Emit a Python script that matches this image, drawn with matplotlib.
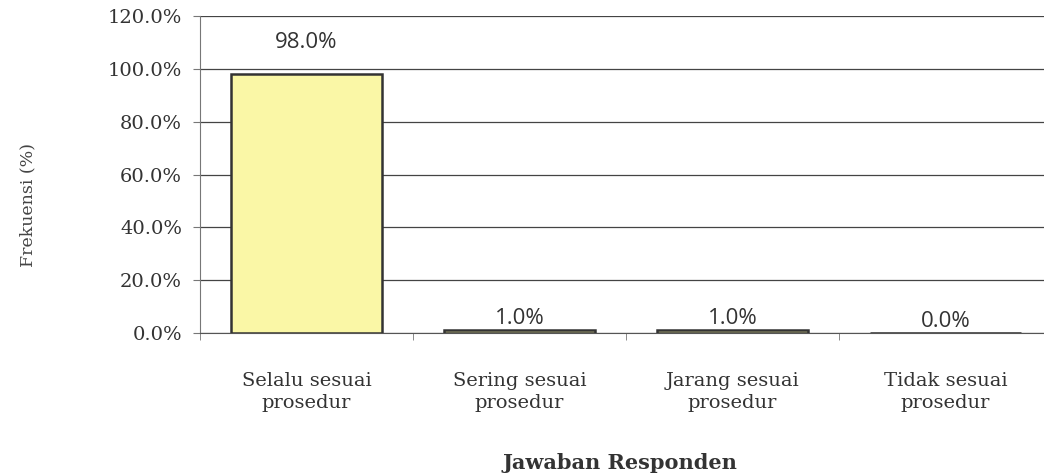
import numpy as np
import matplotlib.pyplot as plt
from matplotlib.ticker import FuncFormatter, FixedLocator

categories = ['Selalu sesuai\nprosedur', 'Sering sesuai\nprosedur',
              'Jarang sesuai\nprosedur', 'Tidak sesuai\nprosedur']
values = [98.0, 1.0, 1.0, 0.0]
yticks = [0, 20, 40, 60, 80, 100, 120]

serif = ['DejaVu Serif']
sans = ['Open Sans', 'DejaVu Sans']

fig = plt.figure(figsize=(10.44, 4.76), dpi=100)
ax = fig.add_axes([200 / 1044, 143 / 476, 852 / 1044, 317 / 476])

x = np.arange(len(categories))
ax.bar(x, values, width=0.71, color='#FAF7A6', edgecolor='#333333', linewidth=1.8, zorder=3)

# data labels above bars
for xi, v in zip(x, values):
    off = 11.8 if v > 50 else 4.5
    ax.text(xi, v + off, f'{v:.1f}%', ha='center', va='center', fontsize=16,
            family=sans, color='#333333', zorder=4)

ax.set_xlim(-0.5, len(categories) - 0.5)
ax.set_ylim(0, 120)
ax.set_yticks(yticks)
ax.yaxis.set_major_formatter(FuncFormatter(lambda v, p: f'{v:.1f}%'))
ax.yaxis.grid(True, color='#444444', linewidth=0.9, zorder=0)

ax.set_xticks(x)
ax.set_xticklabels(categories, family=serif, fontsize=14, color='#333333', linespacing=1.3)
ax.xaxis.set_minor_locator(FixedLocator(np.arange(-0.5, len(categories), 1.0)))
ax.tick_params(axis='x', which='major', length=0, pad=28)
ax.tick_params(axis='x', which='minor', length=5, color='#777777', direction='out')
ax.tick_params(axis='y', length=5, color='#777777', labelsize=14, labelcolor='#333333', pad=8)
for lab in ax.get_yticklabels():
    lab.set_family(serif)

for s in ['top', 'right']:
    ax.spines[s].set_visible(False)
ax.spines['left'].set_color('#777777')
ax.spines['bottom'].set_color('#555555')

fig.text(28 / 1044, 1 - 205 / 476, 'Frekuensi (%)', rotation=90, ha='center', va='center',
         fontsize=12.5, family=serif, color='#444444')
fig.text(620 / 1044, 1 - 463 / 476, 'Jawaban Responden', ha='center', va='center',
         fontsize=15, family=serif, fontweight='bold', color='#333333')

plt.savefig('out.png', dpi=100)
